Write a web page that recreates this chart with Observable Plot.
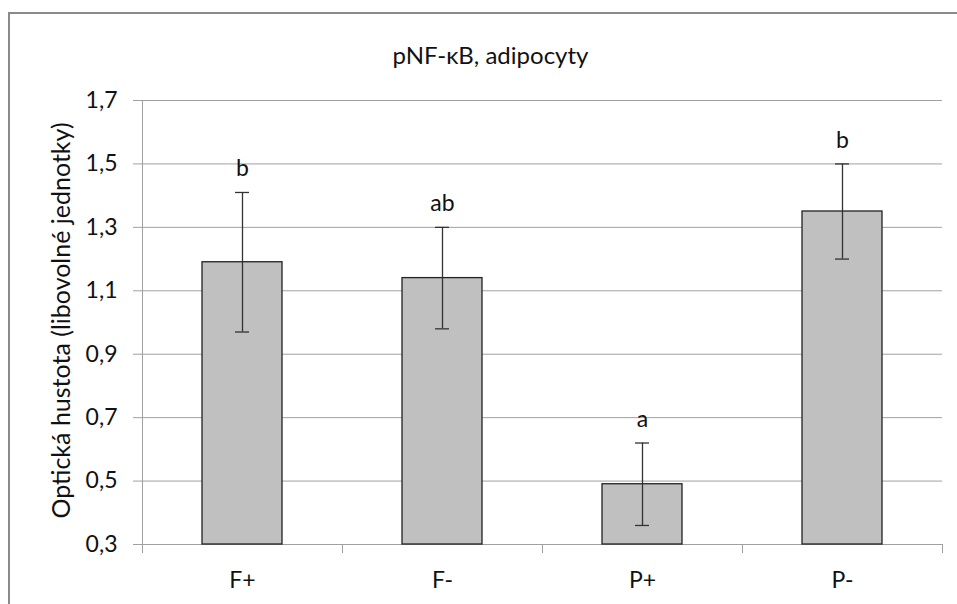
<!DOCTYPE html>
<html>
<head>
<meta charset="utf-8">
<script src="https://cdn.jsdelivr.net/npm/d3@7"></script>
<script src="https://cdn.jsdelivr.net/npm/@observablehq/plot@0.6"></script>
<style>
  html, body { margin: 0; padding: 0; background: #fff; overflow: hidden; }
  #wrap { position: relative; width: 957px; height: 604px; }
  #frame { position: absolute; left: 8px; top: 12px; width: 1200px; height: 1000px;
           border-left: 2.5px solid #8a8a8a; border-top: 2.5px solid #8a8a8a; }
  #chart { position: absolute; left: 0; top: 0; }
</style>
</head>
<body>
<div id="wrap"><div id="frame"></div><div id="chart"></div></div>
<script>
const title = "pNF-κB, adipocyty";
const yLabel = "Optická hustota (libovolné jednotky)";
const categories = ["F+", "F-", "P+", "P-"];
const means = [1.19, 1.14, 0.49, 1.35];
const errLow = [0.97, 0.98, 0.36, 1.20];
const errHigh = [1.41, 1.30, 0.62, 1.50];
const letters = ["b", "ab", "a", "b"];
const yTicks = [0.3, 0.5, 0.7, 0.9, 1.1, 1.3, 1.5, 1.7];

const data = categories.map((c, i) => ({
  i, cat: c, mean: means[i], lo: errLow[i], hi: errHigh[i], letter: letters[i]
}));
const boundaries = d3.range(-0.5, categories.length, 1);
const font = "Lato, 'Open Sans', sans-serif";
const fmt = d => d3.format(".1f")(d).replace(".", ",");
const capHalf = 0.035;

const chart = Plot.plot({
  width: 957,
  height: 604,
  marginLeft: 142,
  marginRight: 15,
  marginTop: 100,
  marginBottom: 60,
  style: { fontFamily: font, fontSize: "23px", color: "#111", background: "transparent" },
  x: { type: "linear", domain: [-0.5, categories.length - 0.5] },
  y: { type: "linear", domain: [0.3, 1.7] },
  marks: [
    Plot.gridY(yTicks, { stroke: "#a0a0a0", strokeOpacity: 1, strokeWidth: 1 }),
    Plot.axisY({ ticks: yTicks, tickSize: 9, tickPadding: 16, tickFormat: fmt, stroke: "#a0a0a0", label: null, fontSize: 23 }),
    Plot.ruleX([-0.5], { y1: 0.3, y2: 1.7, stroke: "#a0a0a0", strokeWidth: 1 }),
    Plot.axisX({ ticks: boundaries, tickSize: 9, tickFormat: () => "", stroke: "#a0a0a0", label: null }),
    Plot.axisX({ ticks: d3.range(categories.length), tickSize: 0, tickPadding: 27, tickFormat: i => categories[i], label: null, fontSize: 23 }),
    Plot.rectY(data, { x1: d => d.i - 0.2, x2: d => d.i + 0.2, y1: 0.3, y2: "mean", fill: "#c0c0c0", stroke: "#222", strokeWidth: 1.3 }),
    Plot.ruleX(data, { x: "i", y1: "lo", y2: "hi", stroke: "#333", strokeWidth: 1.3 }),
    Plot.ruleY(data, { y: "lo", x1: d => d.i - capHalf, x2: d => d.i + capHalf, stroke: "#333", strokeWidth: 1.3 }),
    Plot.ruleY(data, { y: "hi", x1: d => d.i - capHalf, x2: d => d.i + capHalf, stroke: "#333", strokeWidth: 1.3 }),
    Plot.text(data, { x: "i", y: "hi", text: "letter", lineAnchor: "bottom", dy: -16, fontSize: 23, fill: "#111" }),
    Plot.text([yLabel], { frameAnchor: "left", textAnchor: "middle", rotate: -90, dx: -81, dy: -2, fontSize: 25, fill: "#111" }),
    Plot.text([title], { frameAnchor: "top", textAnchor: "middle", dx: -52, dy: -54, fontSize: 24, fill: "#111" })
  ]
});
document.getElementById("chart").appendChild(chart);
</script>
</body>
</html>
